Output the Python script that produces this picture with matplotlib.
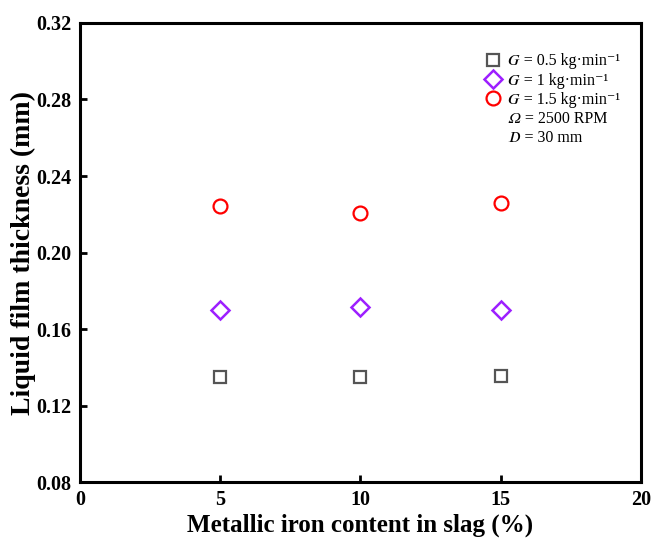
import matplotlib.pyplot as plt
from matplotlib.lines import Line2D

plt.rcParams['font.family'] = 'Liberation Serif'

fe_content = [5, 10, 15]
film_g05 = [0.135, 0.135, 0.1355]
film_g1 = [0.170, 0.1715, 0.170]
film_g15 = [0.2245, 0.2207, 0.2258]

fig = plt.figure(figsize=(6.53, 5.41), dpi=100)
ax = fig.add_axes([0.1225, 0.109, 0.859, 0.8485])

ax.plot(fe_content, film_g05, ls='none', marker='s', ms=8.5, mfc='none',
        mec='#555555', mew=1.6, label='𝐺 = 0.5 kg·min⁻¹')
ax.plot(fe_content, film_g1, ls='none', marker='D', ms=9, mfc='none',
        mec='#9d1fff', mew=1.8, label='𝐺 = 1 kg·min⁻¹')
ax.plot(fe_content, film_g15, ls='none', marker='o', ms=10, mfc='none',
        mec='#ff0000', mew=1.6, label='𝐺 = 1.5 kg·min⁻¹')

handles, labels = ax.get_legend_handles_labels()
blank = Line2D([], [], ls='none')
handles += [blank, blank]
labels += ['𝛺 = 2500 RPM', '𝐷 = 30 mm']
leg = ax.legend(handles, labels, loc='upper right', frameon=False,
                prop={'family': ['Liberation Serif', 'STIXGeneral', 'DejaVu Serif'], 'size': 11.5},
                handletextpad=0.25, labelspacing=0.2, handlelength=1.4,
                bbox_to_anchor=(0.988, 0.965))

ax.set_xlim(0, 20)
ax.set_ylim(0.08, 0.32)
ax.set_xticks([0, 5, 10, 15, 20])
ax.set_yticks([0.08, 0.12, 0.16, 0.20, 0.24, 0.28, 0.32])
ax.set_yticklabels(['0.08', '0.12', '0.16', '0.20', '0.24', '0.28', '0.32'])

for s in ax.spines.values():
    s.set_linewidth(2.2)
ax.tick_params(direction='in', width=2, length=5, labelsize=14.5, pad=6)
for lab in ax.get_xticklabels() + ax.get_yticklabels():
    lab.set_fontweight('bold')

ax.set_xlabel('Metallic iron content in slag (%)', fontsize=18, fontweight='bold')
ax.set_ylabel('Liquid film thickness (mm)', fontsize=20, fontweight='bold')
ax.yaxis.set_label_coords(-0.079, 0.5)
ax.xaxis.set_label_coords(0.5, -0.068)

fig.savefig('out.png', dpi=100)
